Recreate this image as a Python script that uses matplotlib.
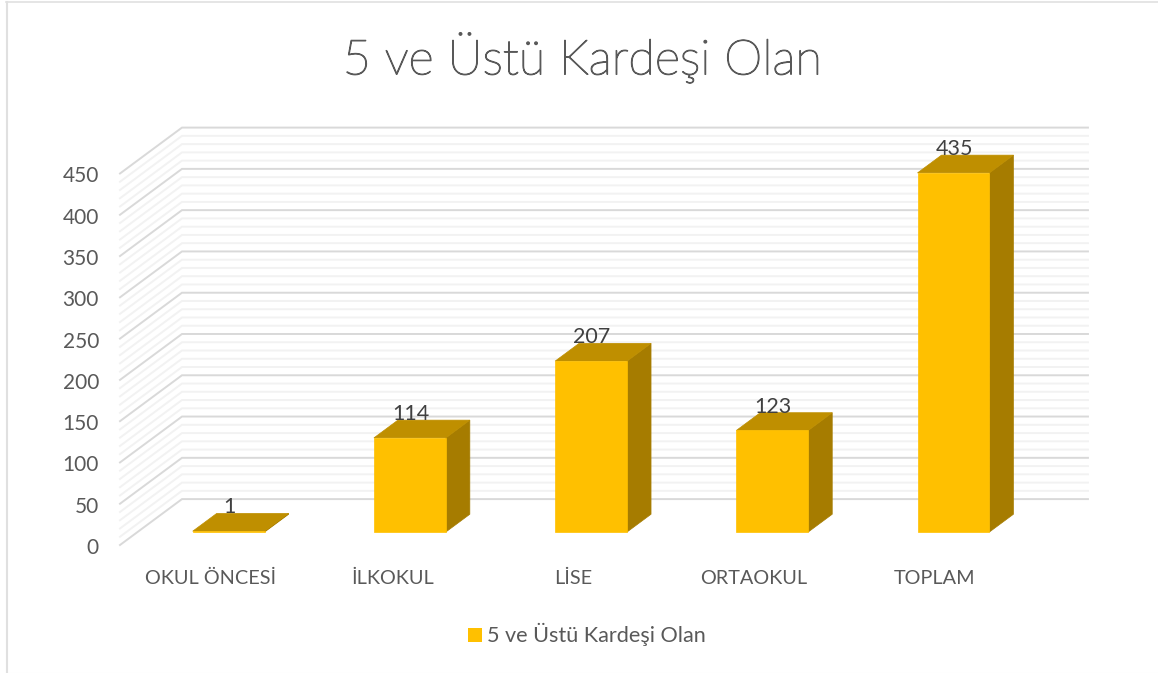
#plot.py - 3D style column chart drawn on plain 2D axes
import numpy as np
from matplotlib import pyplot as plt
from matplotlib import patheffects
from matplotlib.patches import Polygon, Rectangle
from matplotlib.lines import Line2D

plt.rcParams['font.family'] = ['Lato', 'DejaVu Sans']

title = '5 ve Üstü Kardeşi Olan'
categories = ['OKUL ÖNCESİ', 'İLKOKUL', 'LİSE', 'ORTAOKUL', 'TOPLAM']
values = [1, 114, 207, 123, 435]
major_ticks = [0, 50, 100, 150, 200, 250, 300, 350, 400, 450]
minor_step = 10

W, H = 1158, 673
# depth of the box in axis units
DX, DY = 0.342, 55.6
BAR_W = 0.397
D0, D1 = 0.283, 0.67

def proj(x, y, d):
    return (x + d*DX, y + d*DY)

fig = plt.figure(figsize=(W/100, H/100), dpi=100)
ax = fig.add_axes([120/W, 1-545/H, 906/W, 371.5/H])
ax.set_xlim(-0.5, 4.5)
ax.set_ylim(0, 450)
ax.axis('off')

# chart border
fig.add_artist(Line2D([6.5/W, 6.5/W], [0, 1-1.5/H], color='#e0e0e0', lw=1.5))
fig.add_artist(Line2D([6/W, 1], [1-1.5/H, 1-1.5/H], color='#e0e0e0', lw=1.2))
fig.add_artist(Line2D([6/W, 1], [1-672.5/H, 1-672.5/H], color='#f2f2f2', lw=0.8))

# gridlines, side wall and back wall
for v in np.arange(0, 451, minor_step):
    major = v in major_ticks
    col = '#d9d9d9' if major else '#f2f2f2'
    p0 = proj(-0.5, v, 0)
    p1 = proj(-0.5, v, 1)
    p2 = proj(4.5, v, 1)
    ax.plot([p0[0], p1[0], p2[0]], [p0[1], p1[1], p2[1]], color=col, lw=1.4,
            clip_on=False, zorder=2 if major else 1, solid_joinstyle='miter')

for i, v in enumerate(values):
    x0 = i - BAR_W/2 + 0.003
    x1 = x0 + BAR_W
    f_bl = proj(x0, 0, D0)
    f_br = proj(x1, 0, D0)
    f_tl = proj(x0, v, D0)
    f_tr = proj(x1, v, D0)
    b_br = proj(x1, 0, D1)
    b_tl = proj(x0, v, D1)
    b_tr = proj(x1, v, D1)
    ax.add_patch(Polygon([f_br, b_br, b_tr, f_tr], fc='#a67c00', ec='#a67c00', lw=0.5, zorder=3, clip_on=False))
    ax.add_patch(Polygon([f_tl, f_tr, b_tr, b_tl], fc='#bf8f00', ec='#bf8f00', lw=0.5, zorder=3, clip_on=False))
    ax.add_patch(Polygon([f_bl, f_br, f_tr, f_tl], fc='#ffc000', ec='#ffc000', lw=0.5, zorder=4, clip_on=False))
    # value label sits over the middle of the bar, on the back edge of the top face
    lx = proj((x0+x1)/2, v, D0)[0]
    ly = proj(x0, v, D1)[1]
    ax.annotate(str(v), (lx, ly), xytext=(1, -4), textcoords='offset pixels', ha='center', va='bottom',
                fontsize=15.5, color='#404040', zorder=5, annotation_clip=False)

# tick labels
for t in major_ticks:
    ax.annotate(str(t), (-0.5, t), xytext=(-21, -3), textcoords='offset pixels', ha='right', va='center',
                fontsize=15, color='#595959', annotation_clip=False)
label_x = [211, 393, 573, 754, 935]
for c, px in zip(categories, label_x):
    fig.text(px/W, 1-578/H, c, ha='center', va='center', fontsize=14.3, color='#595959')

# the light weight comes out very thin, so thicken it a little
t = fig.text(582.5/W, 1-57/H, title, ha='center', va='center', fontsize=35, color='#595959', fontweight='light')
t.set_path_effects([patheffects.withStroke(linewidth=0.9, foreground='#595959')])

# legend
fig.add_artist(Rectangle((468/W, 1-642/H), 14/W, 14/H, fc='#ffc000', ec='none', transform=fig.transFigure))
fig.text(487/W, 1-634/H, title, ha='left', va='center', fontsize=15.6, color='#595959')

fig.savefig('out.png', dpi=100)
